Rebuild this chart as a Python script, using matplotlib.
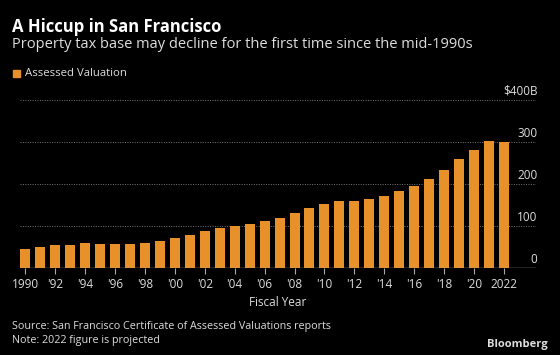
import matplotlib
matplotlib.use("Agg")
import matplotlib.pyplot as plt
from matplotlib.patches import Rectangle

years = list(range(1990, 2023))
values = [46, 50, 55, 55, 59, 57, 57, 57, 59, 64, 71, 79, 89, 95, 99, 105, 113, 120,
          130, 142, 152, 159, 159, 165, 172, 183, 195, 212, 234, 260, 282, 302, 300]
tick_years = list(range(1990, 2023, 2))
tick_labels = ["1990"] + ["'%02d" % (y % 100) for y in tick_years[1:-1]] + ["2022"]
y_ticks = [0, 100, 200, 300, 400]
y_labels = ["0", "100", "200", "300", "$400B"]

BG = "black"
ORANGE = "#E8912B"
TXT = "#DDDDDD"
plt.rcParams['font.family'] = ['Open Sans', 'DejaVu Sans']

fig = plt.figure(figsize=(5.6, 3.55), dpi=100, facecolor=BG)
W, H = 560, 355
ax = fig.add_axes([20 / W, 1 - 268 / H, (536 - 20) / W, (268 - 100) / H], facecolor=BG)

ax.bar(years, values, width=0.67, color=ORANGE, zorder=3)
ax.set_ylim(0, 400)
ax.set_xlim(1989.65, 1989.65 + (536 - 20) / 14.96)

for v in y_ticks[1:]:
    ax.axhline(v, color="#777777", lw=0.7, ls=(0, (1, 1.5)), zorder=1)
ax.axhline(0, color="#AAAAAA", lw=1.0, zorder=4)

for s in ax.spines.values():
    s.set_visible(False)
ax.set_yticks([])
ax.set_xticks(tick_years)
ax.set_xticklabels(tick_labels, fontsize=8.5, color=TXT)
ax.tick_params(axis="x", length=4, width=0.8, color="#AAAAAA", pad=3)

for v, lab in zip(y_ticks, y_labels):
    ax.text(1.003, v + 5, lab, transform=ax.get_yaxis_transform(), ha="right",
            va="bottom", fontsize=8.5, color=TXT)

ax.set_xlabel("Fiscal Year", fontsize=8.5, color=TXT, labelpad=4)

fig.text(12 / W, 1 - 27 / H, "A Hiccup in San Francisco", fontsize=12,
         fontweight="bold", color="white", va="center")
fig.text(12 / W, 1 - 45 / H, "Property tax base may decline for the first time since the mid-1990s",
         fontsize=10.5, color=TXT, va="center")
fig.add_artist(Rectangle((13 / W, 1 - 77 / H), 7 / W, 7 / H, transform=fig.transFigure,
                         color=ORANGE))
fig.text(25 / W, 1 - 73 / H, "Assessed Valuation", fontsize=8.2, color=TXT, va="center")
fig.text(12 / W, 1 - 326 / H, "Source: San Francisco Certificate of Assessed Valuations reports",
         fontsize=7.75, color=TXT, va="center")
fig.text(12 / W, 1 - 341 / H, "Note: 2022 figure is projected", fontsize=7.75, color=TXT, va="center")
fig.text(548 / W, 1 - 344 / H, "Bloomberg", fontsize=8, fontweight="bold", color=TXT,
         ha="right", va="center")

fig.savefig("out.png", dpi=100, facecolor=BG)
